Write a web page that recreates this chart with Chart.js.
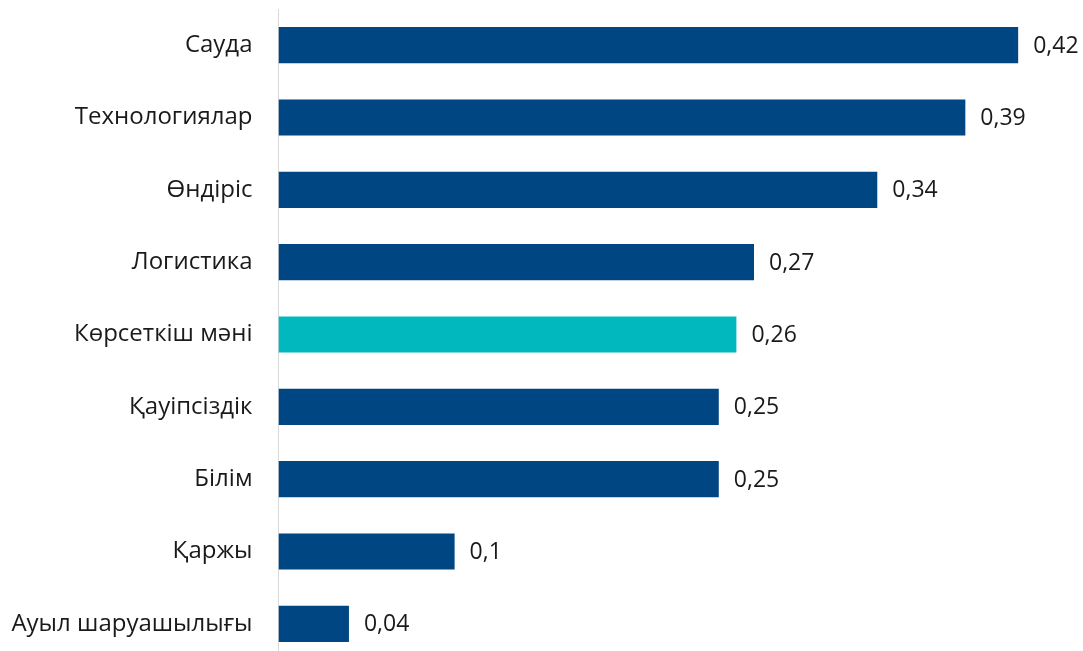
<!DOCTYPE html>
<html>
<head>
<meta charset="utf-8">
<script src="https://cdn.jsdelivr.net/npm/chart.js@4"></script>
<style>
  html, body { margin: 0; padding: 0; background: #fff; overflow: hidden; }
  canvas { display: block; }
</style>
</head>
<body>
<canvas id="myChart" width="1083" height="660"></canvas>
<script>
// values
const categories = ['Сауда', 'Технологиялар', 'Өндіріс', 'Логистика', 'Көрсеткіш мәні', 'Қауіпсіздік', 'Білім', 'Қаржы', 'Ауыл шаруашылығы']
const values = [0.42, 0.39, 0.34, 0.27, 0.26, 0.25, 0.25, 0.1, 0.04]
const highlight = 'Көрсеткіш мәні'

const barColors = categories.map(c => (c === highlight ? '#00B8BE' : '#004682'))

// draws the number at the end of each bar
const valueLabels = {
  id: 'valueLabels',
  afterDatasetsDraw(chart) {
    const ctx = chart.ctx
    const meta = chart.getDatasetMeta(0)
    ctx.save()
    ctx.font = '23px "Open Sans"'
    ctx.fillStyle = '#1a1a1a'
    ctx.textAlign = 'left'
    ctx.textBaseline = 'middle'
    meta.data.forEach((bar, i) => {
      ctx.fillText(String(values[i]).replace('.', ','), bar.x + 15, bar.y + 1)
    })
    ctx.restore()
  }
}

var ctx = document.getElementById('myChart')
var chart = new Chart(ctx, {
  type: 'bar',
  data: {
    labels: categories,
    datasets: [
      {
        data: values,
        backgroundColor: barColors,
        barPercentage: 0.5,
        categoryPercentage: 1
      }
    ]
  },
  options: {
    indexAxis: 'y',
    responsive: false,
    animation: false,
    layout: { padding: { top: 9, right: 12, bottom: 0, left: 0 } },
    plugins: {
      legend: { display: false },
      tooltip: { enabled: false }
    },
    scales: {
      x: {
        display: false,
        min: 0,
        max: 0.45
      },
      y: {
        grid: { display: false, drawTicks: false },
        border: { display: true, color: '#d9d9d9', width: 1 },
        ticks: {
          color: '#1a1a1a',
          padding: 26,
          font: { family: '"Open Sans"', size: 24 }
        },
        afterFit(scale) {
          scale.width = 278.5
          scale.paddingTop = 0
          scale.paddingBottom = 0
        }
      }
    }
  },
  plugins: [valueLabels]
})
</script>
</body>
</html>
